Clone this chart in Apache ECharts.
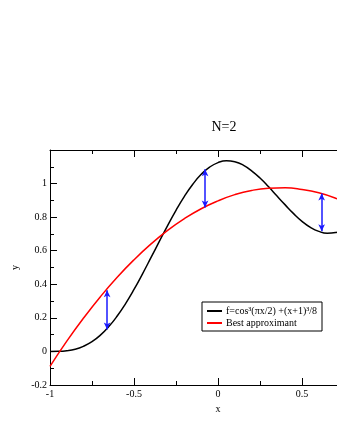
<!DOCTYPE html>
<html>
<head>
<meta charset="utf-8">
<script src="https://cdn.jsdelivr.net/npm/echarts@6/dist/echarts.min.js"></script>
<style>
  html, body { margin: 0; padding: 0; background: #fff; }
  #chart { width: 337px; height: 436px; }
</style>
</head>
<body>
<div id="chart"></div>
<script>
// values
var xs = [-1, -0.95, -0.9, -0.85, -0.8, -0.75, -0.7, -0.65, -0.6, -0.55, -0.5, -0.45, -0.4, -0.35, -0.3, -0.25, -0.2, -0.15, -0.1, -0.05,
          0, 0.05, 0.1, 0.15, 0.2, 0.25, 0.3, 0.35, 0.4, 0.45, 0.5, 0.55, 0.6, 0.65, 0.7, 0.75, 0.8, 0.85, 0.9, 0.95, 1];
var fValues = [0, 0.0005, 0.004, 0.013, 0.031, 0.058, 0.097, 0.148, 0.211, 0.285, 0.369, 0.461, 0.557, 0.654, 0.750, 0.841, 0.924, 0.996, 1.055, 1.098,
               1.125, 1.136, 1.130, 1.110, 1.076, 1.033, 0.982, 0.927, 0.873, 0.821, 0.775, 0.739, 0.715, 0.704, 0.708, 0.726, 0.759, 0.804, 0.861, 0.927, 1];

var approxX = [-1, -0.9, -0.8, -0.7, -0.6, -0.5, -0.4, -0.3, -0.2, -0.1, 0, 0.1, 0.2, 0.3, 0.4, 0.5, 0.6, 0.7, 0.8, 0.9, 1];
var approxValues = [-0.089, 0.061, 0.199, 0.326, 0.442, 0.546, 0.639, 0.721, 0.791, 0.850, 0.897, 0.934, 0.959, 0.972, 0.975, 0.965, 0.945, 0.913, 0.870, 0.816, 0.750];

// error arrows (x, value on f, value on approximant)
var arrowX = [-0.66, -0.077, 0.617];
var arrowFrom = [0.131, 1.085, 0.716];
var arrowTo = [0.364, 0.858, 0.941];

var fName = 'f=cos\u00b3(\u03c0x/2) +(x+1)\u00b3/8';
var approxName = 'Best approximant';

function zipPoints(x, y) {
    var pts = [];
    for (var i = 0; i < x.length; i++) {
        pts.push([x[i], y[i]]);
    }
    return pts;
}

var arrowLines = [];
for (var i = 0; i < arrowX.length; i++) {
    arrowLines.push([{ coord: [arrowX[i], arrowFrom[i]] }, { coord: [arrowX[i], arrowTo[i]] }]);
}

var font = 'Liberation Serif';

var chart = echarts.init(document.getElementById('chart'));

var options = {
    animation: false,
    backgroundColor: '#fff',
    textStyle: { fontFamily: font },
    title: {
        text: 'N=2',
        left: 219,
        textAlign: 'center',
        top: 115,
        textStyle: { fontFamily: font, fontSize: 14, fontWeight: 'normal', color: '#000' }
    },
    legend: {
        data: [fName, approxName],
        orient: 'vertical',
        left: 202,
        top: 302,
        padding: [4, 5, 3, 5],
        itemGap: 2,
        itemWidth: 15,
        itemHeight: 2,
        icon: 'rect',
        borderColor: '#000',
        borderWidth: 1,
        borderRadius: 0,
        textStyle: { fontFamily: font, fontSize: 10, color: '#000', padding: [0, 0, 0, -1] }
    },
    // the frame runs past the right edge of the picture, as in the original
    grid: { left: 50, top: 150, width: 336, height: 235, containLabel: false, outerBoundsMode: 'none' },
    xAxis: [{
        type: 'value',
        min: -1,
        max: 1,
        interval: 0.5,
        name: 'x',
        nameLocation: 'middle',
        nameGap: 16,
        nameTextStyle: { fontFamily: font, fontSize: 10, color: '#000' },
        axisLine: { onZero: false, lineStyle: { color: '#000', width: 1 } },
        axisTick: { inside: true, length: 7, lineStyle: { color: '#000' } },
        minorTick: { show: true, splitNumber: 2, length: 4, lineStyle: { color: '#000' } },
        axisLabel: { fontFamily: font, fontSize: 10, color: '#000', margin: 4 },
        splitLine: { show: false }
    }, {
        type: 'value',
        position: 'top',
        min: -1,
        max: 1,
        interval: 0.5,
        axisLine: { onZero: false, lineStyle: { color: '#000', width: 1 } },
        axisTick: { inside: true, length: 7, lineStyle: { color: '#000' } },
        minorTick: { show: true, splitNumber: 2, length: 4, lineStyle: { color: '#000' } },
        axisLabel: { show: false },
        splitLine: { show: false }
    }],
    yAxis: {
        type: 'value',
        min: -0.2,
        max: 1.2,
        interval: 0.2,
        name: 'y',
        nameLocation: 'middle',
        nameGap: 24,
        nameTextStyle: { fontFamily: font, fontSize: 10, color: '#000' },
        axisLine: { show: true, onZero: false, lineStyle: { color: '#000', width: 1 } },
        axisTick: { show: true, inside: true, length: 7, lineStyle: { color: '#000' } },
        minorTick: { show: true, splitNumber: 2, length: 4, lineStyle: { color: '#000' } },
        axisLabel: { fontFamily: font, fontSize: 10, color: '#000', margin: 3, showMaxLabel: false },
        splitLine: { show: false }
    },
    series: [{
        name: fName,
        type: 'line',
        data: zipPoints(xs, fValues),
        smooth: true,
        showSymbol: false,
        color: '#000',
        lineStyle: { color: '#000', width: 1.5 }
    }, {
        name: approxName,
        type: 'line',
        data: zipPoints(approxX, approxValues),
        smooth: true,
        showSymbol: false,
        color: '#ff0000',
        lineStyle: { color: '#ff0000', width: 1.5 }
    }, {
        name: 'error',
        type: 'line',
        data: [],
        markLine: {
            silent: true,
            symbol: ['arrow', 'arrow'],
            symbolSize: [5, 7],
            label: { show: false },
            lineStyle: { color: '#1a1aff', width: 1.5, type: 'solid' },
            data: arrowLines
        }
    }]
};

chart.setOption(options);
</script>
</body>
</html>
